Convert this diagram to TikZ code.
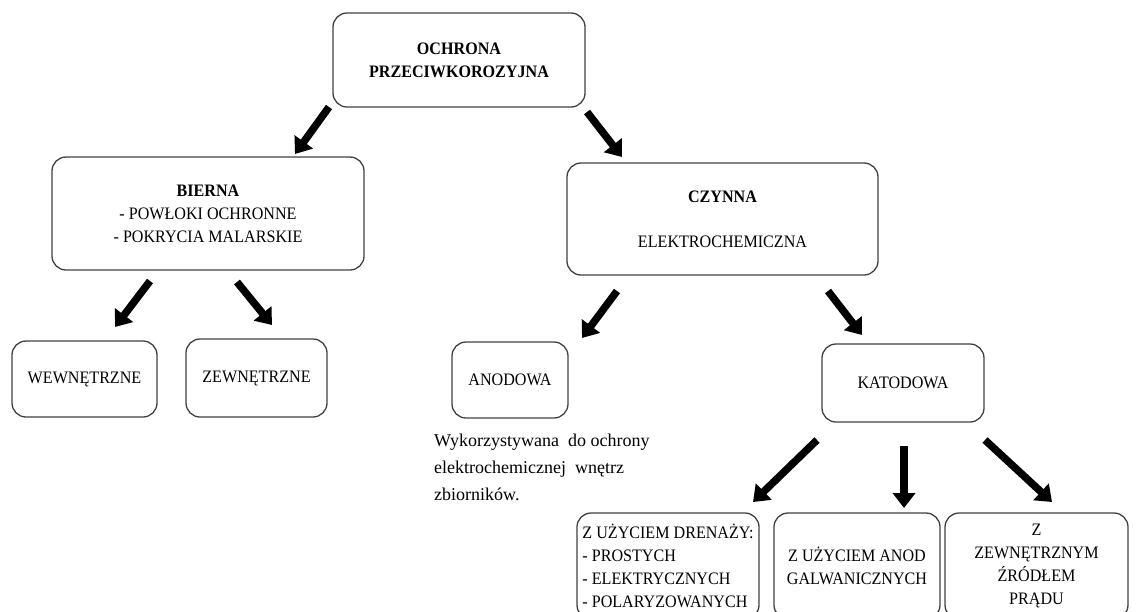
\documentclass[tikz,border=0pt]{standalone}
\usepackage{fontspec}
\setmainfont{Liberation Serif}[FakeStretch=0.92]
\newfontfamily\descfont{Liberation Serif}
\usetikzlibrary{arrows.meta}
\tikzset{
  box/.style={draw=black!75, line width=1.3pt, rounded corners=14pt, inner sep=0pt,
    align=center, font=\fontsize{17.5}{23}\selectfont},
  bigarrow/.style={line width=7.5pt, -{Triangle[length=15pt,width=22pt]}},
  desc/.style={inner sep=0pt, align=left, font=\descfont\fontsize{18}{27}\selectfont}
}
\begin{document}
\begin{tikzpicture}[x=1pt,y=-1pt]
\useasboundingbox (0,0) rectangle (1139,611);
\clip (0,0) rectangle (1139,611);
% boxes
\node[box, minimum width=252pt, minimum height=94pt] (top) at (459,60)
  {\textbf{OCHRONA}\\\textbf{PRZECIWKOROZYJNA}};
\node[box, minimum width=312pt, minimum height=113pt] (bierna) at (208,213.5)
  {\textbf{BIERNA}\\- POWŁOKI OCHRONNE\\- POKRYCIA MALARSKIE};
\node[box, minimum width=311pt, minimum height=112pt] (czynna) at (722.5,219)
  {\textbf{CZYNNA}\\[22pt]ELEKTROCHEMICZNA};
\node[box, minimum width=145pt, minimum height=76pt] (wew) at (84.5,379) {WEWNĘTRZNE};
\node[box, minimum width=141pt, minimum height=78pt] (zew) at (256.5,378) {ZEWNĘTRZNE};
\node[box, minimum width=116pt, minimum height=76pt] (anod) at (510,380) {ANODOWA};
\node[box, minimum width=162pt, minimum height=78pt] (kat) at (903,383) {KATODOWA};
\node[desc, anchor=north west] (opis) at (434,434)
  {Wykorzystywana\ \ do ochrony\\elektrochemicznej\ \ wnętrz\\zbiorników.};
\node[box, align=left, minimum width=182pt, minimum height=106pt] (dren) at (668,566)
  {Z UŻYCIEM DRENAŻY:\\- PROSTYCH\\- ELEKTRYCZNYCH\\- POLARYZOWANYCH};
\node[box, minimum width=166pt, minimum height=106pt] (galw) at (857,566)
  {Z UŻYCIEM ANOD\\GALWANICZNYCH};
\node[box, minimum width=183pt, minimum height=106pt] (zrod) at (1036.5,566)
  {Z\\ZEWNĘTRZNYM\\ŹRÓDŁEM\\PRĄDU};
% arrow end points
\coordinate (a1s) at (329,107); \coordinate (a1e) at (295,154);
\coordinate (a2s) at (587,112); \coordinate (a2e) at (622,157);
\coordinate (a3s) at (150,281); \coordinate (a3e) at (115,327);
\coordinate (a4s) at (237,282); \coordinate (a4e) at (272,325);
\coordinate (a5s) at (617,291); \coordinate (a5e) at (582,338);
\coordinate (a6s) at (828,291); \coordinate (a6e) at (862,335);
\coordinate (a7s) at (817,440); \coordinate (a7e) at (753,502);
\coordinate (a8s) at (904,446); \coordinate (a8e) at (904,508);
\coordinate (a9s) at (985,440); \coordinate (a9e) at (1052,502);
\draw[bigarrow] (a1s) -- (a1e);
\draw[bigarrow] (a2s) -- (a2e);
\draw[bigarrow] (a3s) -- (a3e);
\draw[bigarrow] (a4s) -- (a4e);
\draw[bigarrow] (a5s) -- (a5e);
\draw[bigarrow] (a6s) -- (a6e);
\draw[bigarrow] (a7s) -- (a7e);
\draw[bigarrow] (a8s) -- (a8e);
\draw[bigarrow] (a9s) -- (a9e);
\end{tikzpicture}
\end{document}
